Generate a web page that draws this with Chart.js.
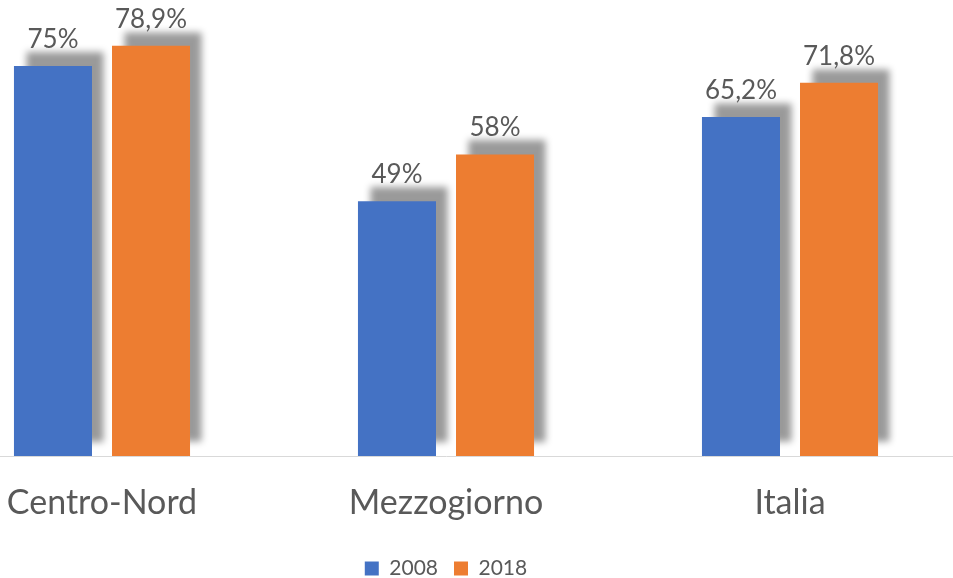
<!DOCTYPE html>
<html>
<head>
<meta charset="utf-8">
<script src="https://cdn.jsdelivr.net/npm/chart.js@4"></script>
<style>
  html, body { margin: 0; padding: 0; background: #fff; overflow: hidden; }
  #wrap { position: absolute; left: -70px; top: 0; width: 1032px; height: 589px; }
</style>
</head>
<body>
<div id="wrap"><canvas id="myChart"></canvas></div>
<script>
const categories = ['Centro-Nord', 'Mezzogiorno', 'Italia'];
const values2008 = [75, 49, 65.2];
const values2018 = [78.9, 58, 71.8];
const seriesNames = ['2008', '2018'];

const fontFamily = 'Lato, "Open Sans", sans-serif';
const textColor = '#595959';

// grey drop shadow behind the bars (up and to the right)
const barShadow = {
    id: 'barShadow',
    beforeDatasetsDraw(chart) {
        const ctx = chart.ctx;
        ctx.save();
        ctx.shadowColor = 'rgba(0,0,0,0.4)';
        ctx.shadowBlur = 7;
        ctx.shadowOffsetX = 12;
        ctx.shadowOffsetY = -14;
    },
    afterDatasetsDraw(chart) {
        chart.ctx.restore();
    }
};

// value labels above the bars
const valueLabels = {
    id: 'valueLabels',
    afterDraw(chart) {
        const ctx = chart.ctx;
        ctx.save();
        ctx.font = '26px ' + fontFamily;
        ctx.fillStyle = textColor;
        ctx.textAlign = 'center';
        ctx.textBaseline = 'alphabetic';
        chart.data.datasets.forEach((ds, i) => {
            chart.getDatasetMeta(i).data.forEach((bar, j) => {
                const txt = String(ds.data[j]).replace('.', ',') + '%';
                ctx.fillText(txt, bar.x, bar.y - 18);
            });
        });
        ctx.restore();
    }
};

const data = {
    labels: categories,
    datasets: [{
        label: seriesNames[0],
        backgroundColor: '#4472C4',
        data: values2008,
        clip: false
    }, {
        label: seriesNames[1],
        backgroundColor: '#ED7D31',
        data: values2018,
        clip: false
    }]
};

const config = {
    type: 'bar',
    data: data,
    plugins: [barShadow, valueLabels],
    options: {
        responsive: true,
        maintainAspectRatio: false,
        animation: false,
        barPercentage: 0.796,
        categoryPercentage: 0.57,
        layout: { padding: { top: 40, bottom: 0, left: 0, right: 0 } },
        scales: {
            y: { display: false, min: 0, max: 80 },
            x: {
                grid: { display: false },
                border: { display: true, color: '#d9d9d9', width: 1 },
                ticks: {
                    color: textColor,
                    font: { family: fontFamily, size: 34, lineHeight: 1.0 },
                    padding: 22
                }
            }
        },
        plugins: {
            tooltip: { enabled: false },
            legend: {
                position: 'bottom',
                labels: {
                    color: textColor,
                    font: { family: fontFamily, size: 21 },
                    boxWidth: 14,
                    boxHeight: 14,
                    padding: 16
                }
            }
        }
    }
};

const myChart = new Chart(document.getElementById('myChart'), config);
</script>
</body>
</html>
